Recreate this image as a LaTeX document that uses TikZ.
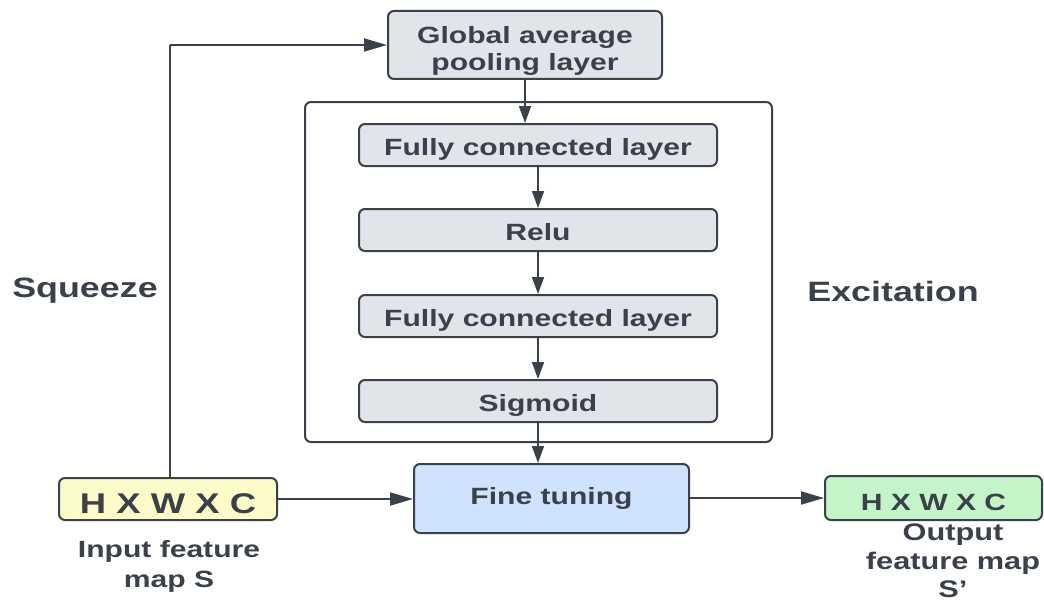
\documentclass[tikz,border=0pt]{standalone}
\usepackage{fontspec}
\setmainfont{Liberation Sans}[FakeStretch=1.28]
\usetikzlibrary{arrows.meta,positioning}
\definecolor{ink}{HTML}{3A414A}
\definecolor{grayfill}{HTML}{E1E4E9}
\definecolor{yellowfill}{HTML}{FDFBC8}
\definecolor{bluefill}{HTML}{CFE3FF}
\definecolor{greenfill}{HTML}{C4F5C8}
\tikzset{
  layerbox/.style={draw=ink, line width=2pt, rounded corners=6pt, fill=grayfill,
    text=ink, font=\fontsize{23.5}{27}\selectfont\bfseries, align=center, inner sep=0pt,
    text height=20pt, text depth=0pt},
  lbl/.style={text=ink, font=\bfseries, align=center, inner sep=0pt},
  vflow/.style={draw=ink, line width=1.8pt, -{Triangle[length=17pt,width=12pt]}},
  hflow/.style={draw=ink, line width=1.8pt, -{Triangle[length=23pt,width=13pt]}},
}
\begin{document}
\begin{tikzpicture}[x=1pt,y=-1pt]
\useasboundingbox (0,0) rectangle (1044,602);
% Excitation container
\node[draw=ink, line width=2pt, rounded corners=6pt, minimum width=467pt, minimum height=340pt, inner sep=0pt] (exc) at (538.5,272) {};
% squeeze: global pooling
\node[layerbox, minimum width=274pt, minimum height=68pt] (gap) at (525,45) {};
\node[lbl, font=\fontsize{23.5}{27}\selectfont\bfseries] (gaptext) at (525,50.5) {Global average\\pooling layer};
% excitation layers
\node[layerbox, minimum width=358pt, minimum height=42pt] (fc1) at (538,145) {Fully connected layer};
\node[layerbox, minimum width=358pt, minimum height=42pt] (relu) at (538,230) {Relu};
\node[layerbox, minimum width=358pt, minimum height=42pt] (fc2) at (538,316) {Fully connected layer};
\node[layerbox, minimum width=358pt, minimum height=42pt] (sig) at (538,401) {Sigmoid};
% scaling and feature maps
\node[layerbox, fill=bluefill, minimum width=275pt, minimum height=69pt, text height=11pt] (fine) at (551.5,498.5) {Fine tuning};
\node[layerbox, fill=yellowfill, minimum width=218pt, minimum height=42pt, text height=28pt, font=\fontsize{28.5}{32}\selectfont\bfseries] (in) at (168,499) {H X W X C};
\node[layerbox, fill=greenfill, minimum width=217pt, minimum height=44pt, text height=24pt] (out) at (933.5,498) {H X W X C};
% labels
\node[lbl, font=\fontsize{28}{32}\selectfont\bfseries] (sq) at (85,291) {Squeeze};
\node[lbl, font=\fontsize{28}{32}\selectfont\bfseries] (ex) at (893,291) {Excitation};
\node[lbl, font=\fontsize{23.5}{30}\selectfont\bfseries] (inl) at (169,566) {Input feature\\map S};
\node[lbl, font=\fontsize{24}{28.5}\selectfont\bfseries] (outl) at (953,561) {Output\\feature map\\S’};
% connectors
\draw[vflow, -] (in.north -| 170,0) -- (170,45);
\draw[hflow] (170,45) -- (gap.west);
\draw[vflow] (gap.south) -- (fc1.north -| gap.south);
\draw[vflow] (fc1) -- (relu);
\draw[vflow] (relu) -- (fc2);
\draw[vflow] (fc2) -- (sig);
\draw[vflow] (sig.south) -- (fine.north -| sig.south);
\draw[hflow] (in.east) -- (fine.west |- in.east);
\draw[hflow] (fine.east |- out.west) -- (out.west);
\end{tikzpicture}
\end{document}
